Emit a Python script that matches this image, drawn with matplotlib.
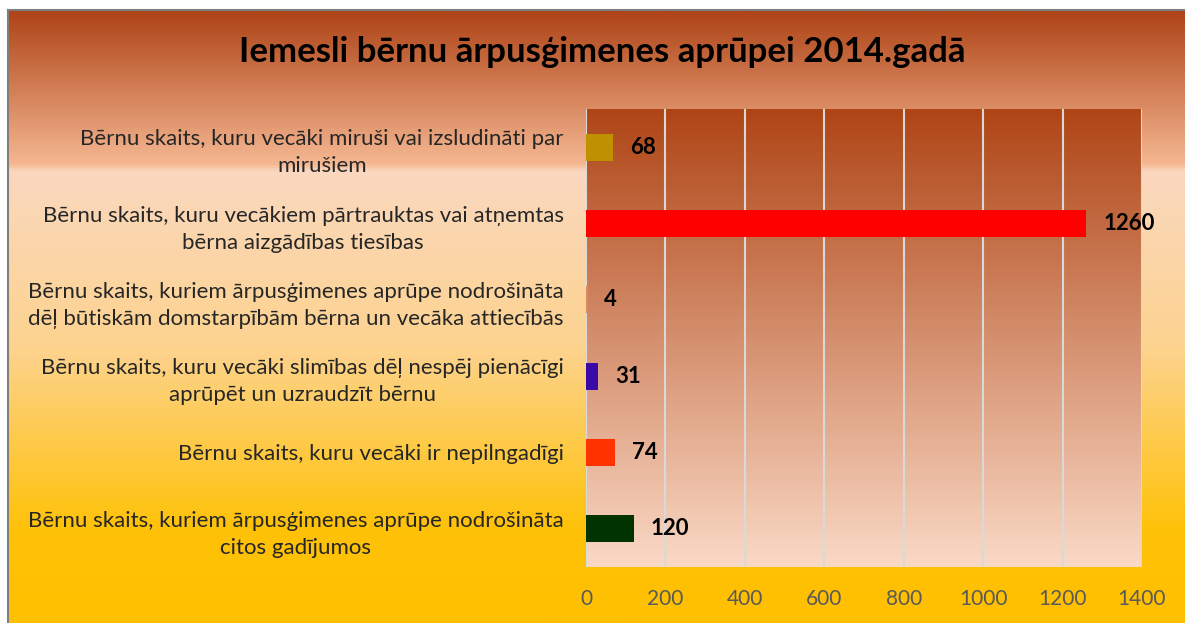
import numpy as np
import matplotlib.pyplot as plt
from matplotlib.colors import LinearSegmentedColormap

plt.rcParams['font.family'] = ['Lato', 'DejaVu Sans']

# Dati
title = 'Iemesli bērnu ārpusģimenes aprūpei 2014.gadā'
categories = [
    'Bērnu skaits, kuru vecāki miruši vai izsludināti par\nmirušiem',
    'Bērnu skaits, kuru vecākiem pārtrauktas vai atņemtas\nbērna aizgādības tiesības',
    'Bērnu skaits, kuriem ārpusģimenes aprūpe nodrošināta\ndēļ būtiskām domstarpībām bērna un vecāka attiecībās',
    'Bērnu skaits, kuru vecāki slimības dēļ nespēj pienācīgi\naprūpēt un uzraudzīt bērnu',
    'Bērnu skaits, kuru vecāki ir nepilngadīgi',
    'Bērnu skaits, kuriem ārpusģimenes aprūpe nodrošināta\ncitos gadījumos',
]
values = [68, 1260, 4, 31, 74, 120]
bar_colors = ['#bf9000', '#ff0000', '#d98a5f', '#3a0aa8', '#ff3300', '#003300']
x_ticks = [0, 200, 400, 600, 800, 1000, 1200, 1400]

W, H = 1185, 623
fig = plt.figure(figsize=(W / 100, H / 100), dpi=100)
fig.patch.set_facecolor('white')

# pozadina (gradijent)
grad = np.linspace(0, 1, 512).reshape(-1, 1)
cmap_bg = LinearSegmentedColormap.from_list('bg', [
    (0.0, '#ae4317'), (0.25, '#f5b791'), (0.262, '#fad8bf'),
    (0.55, '#fdd38f'), (0.85, '#ffc208'), (1.0, '#ffc000')])
bg = fig.add_axes([8 / W, 0, 1 - 8 / W, (H - 10) / H])
bg.imshow(grad, cmap=cmap_bg, aspect='auto', extent=[0, 1, 0, 1], origin='upper')
bg.set_xticks([])
bg.set_yticks([])
for side in ['right', 'bottom']:
    bg.spines[side].set_visible(False)
for side in ['left', 'top']:
    bg.spines[side].set_color('#7f7f7f')
    bg.spines[side].set_linewidth(1.5)

fig.text(602 / W, 1 - 52 / H, title, ha='center', va='center',
         fontsize=25, fontweight='bold', color='black')

# glavni graf
ax = fig.add_axes([586 / W, (H - 567) / H, 556 / W, 458 / H])
y_pos = np.arange(len(categories))
cmap_plot = LinearSegmentedColormap.from_list('pl', ['#af4516', '#fad9c5'])
ax.imshow(grad, cmap=cmap_plot, aspect='auto',
          extent=[0, 1400, len(categories) - 0.5, -0.5], origin='upper', zorder=0)

ax.barh(y_pos, values, height=0.35, color=bar_colors, zorder=2)
for i, v in enumerate(values):
    ax.annotate(str(v), (v, i), xytext=(12, 0), textcoords='offset points',
                va='center', ha='left', fontsize=16, fontweight='bold', color='black')

ax.set_xlim(0, 1400)
ax.set_ylim(len(categories) - 0.5, -0.5)
ax.set_xticks(x_ticks)
ax.set_yticks(y_pos)
ax.set_yticklabels(categories)
for lbl in ax.get_yticklabels():
    lbl.set_multialignment('center')
    lbl.set_linespacing(1.45)
ax.set_axisbelow(True)
ax.grid(axis='x', color='#d9d9d9', linewidth=1.5)
ax.tick_params(axis='x', length=0, pad=16, labelsize=15, labelcolor='#595959')
ax.tick_params(axis='y', length=0, pad=16, labelsize=16, labelcolor='#262626')
for s in ax.spines.values():
    s.set_visible(False)

plt.savefig('out.png', dpi=100)
plt.close()
